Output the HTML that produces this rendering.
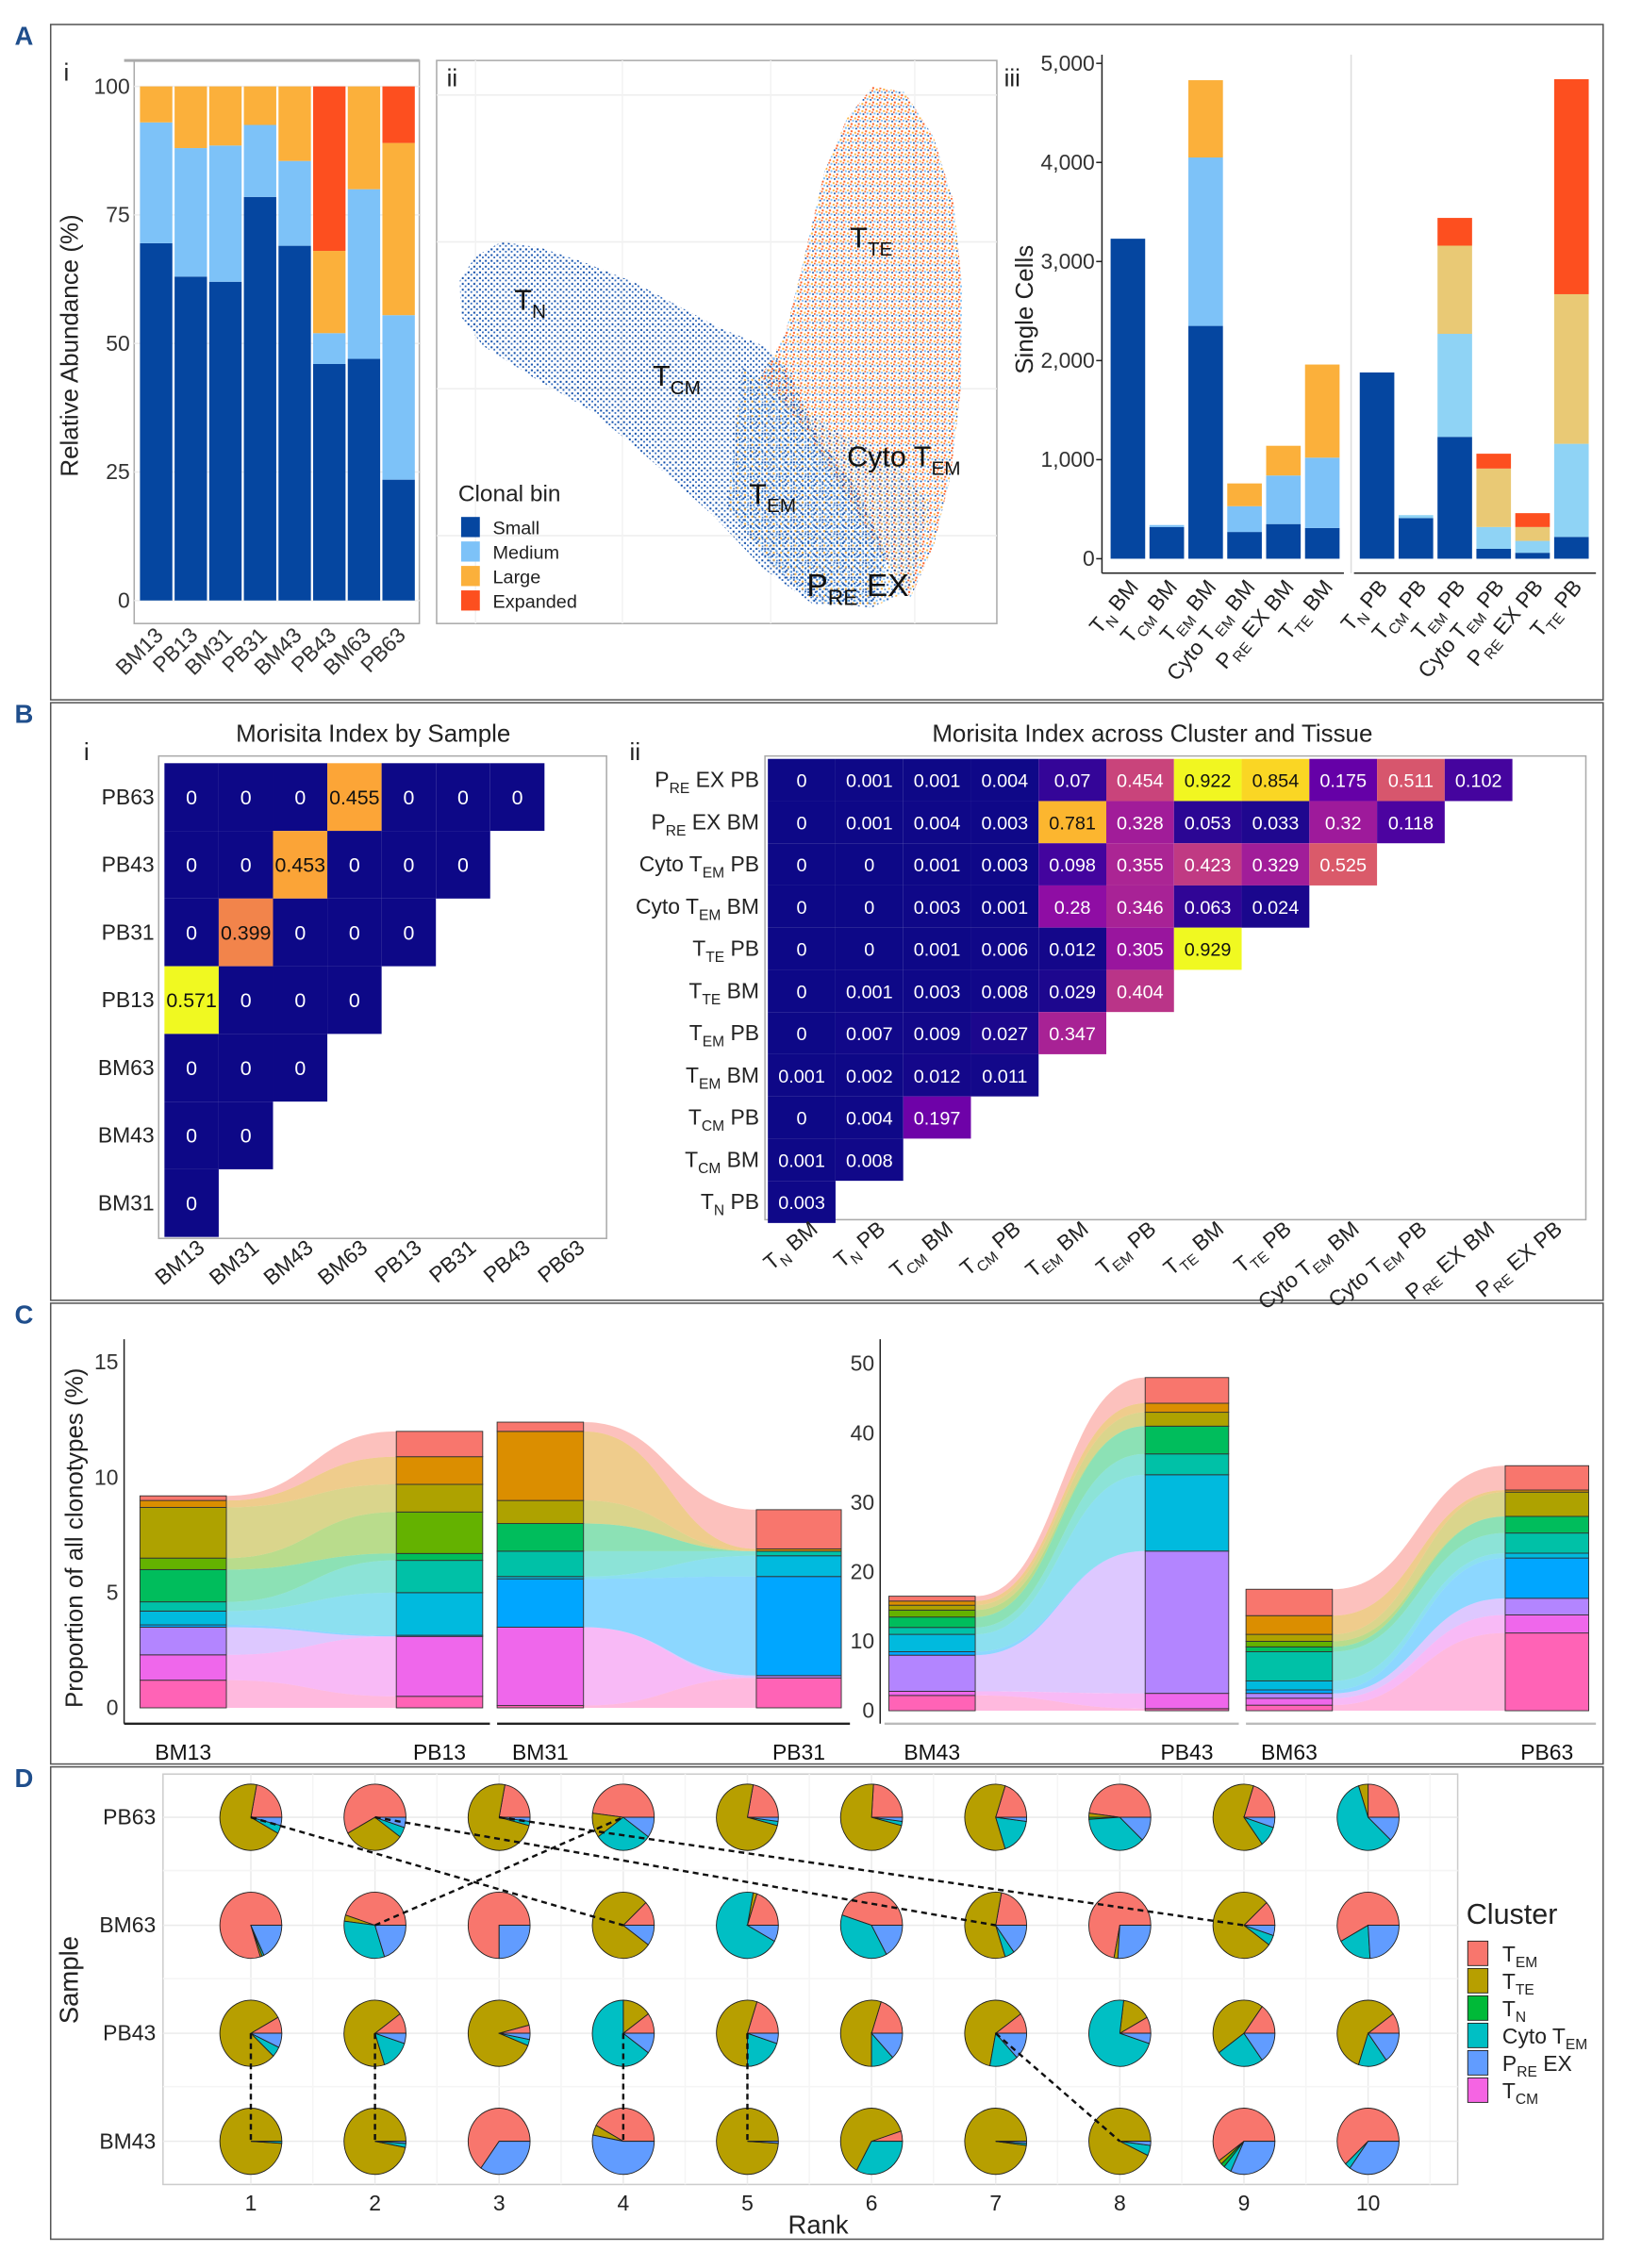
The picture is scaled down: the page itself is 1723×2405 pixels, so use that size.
<!DOCTYPE html>
<html><head><meta charset="utf-8">
<style>
html,body{margin:0;padding:0;background:#fff;}
svg{display:block;font-family:"Liberation Sans",sans-serif;}
</style></head>
<body>
<svg id="fig" xmlns="http://www.w3.org/2000/svg" width="1723" height="2405" viewBox="0 0 1128 1575">
<defs>
<pattern id="bluedots" width="4" height="4" patternUnits="userSpaceOnUse">
<rect x="0.5" y="0.5" width="1.3" height="1.3" fill="#0b4aa8"/><rect x="2.5" y="2.2" width="1.2" height="1.2" fill="#2a66bd"/>
</pattern>
<pattern id="mixdots" width="5" height="5" patternUnits="userSpaceOnUse">
<rect x="0.5" y="0.5" width="1.3" height="1.3" fill="#fd5a1e"/><rect x="3" y="1.5" width="1.3" height="1.3" fill="#fbb03b"/><rect x="1.5" y="3.2" width="1.3" height="1.3" fill="#7dc2f8"/><rect x="3.8" y="3.8" width="1.1" height="1.1" fill="#0b4aa8"/><rect x="0" y="2.5" width="1.1" height="1.1" fill="#fd5a1e"/>
</pattern>
<pattern id="lowdots" width="5" height="5" patternUnits="userSpaceOnUse">
<rect x="0.5" y="0.5" width="1.3" height="1.3" fill="#0b4aa8"/><rect x="3" y="1.5" width="1.3" height="1.3" fill="#7dc2f8"/><rect x="1.5" y="3.2" width="1.3" height="1.3" fill="#fbb03b"/><rect x="3.8" y="3.8" width="1.1" height="1.1" fill="#3a78c8"/>
</pattern>
</defs>
</svg>
<script>
// ---------- DATA ----------
// Panel A-i
const aiSamples = ["BM13","PB13","BM31","PB31","BM43","PB43","BM63","PB63"];
const aiSmall = [69.5,63,62,78.5,69,46,47,23.5];
const aiMedium = [23.5,25,26.5,14,16.5,6,33,32];
const aiLarge = [7,12,11.5,7.5,14.5,16,20,33.5];
const aiExpanded = [0,0,0,0,0,32,0,11];
const aiTicks = [0,25,50,75,100];
// Panel A-iii
const aiiiCatsBM = ["T{N} BM","T{CM} BM","T{EM} BM","Cyto T{EM} BM","P{RE} EX BM","T{TE} BM"];
const aiiiCatsPB = ["T{N} PB","T{CM} PB","T{EM} PB","Cyto T{EM} PB","P{RE} EX PB","T{TE} PB"];
const aiiiSmallBM = [3230,320,2350,270,350,310];
const aiiiMediumBM = [0,20,1700,260,490,710];
const aiiiLargeBM = [0,0,780,230,300,940];
const aiiiExpBM = [0,0,0,0,0,0];
const aiiiSmallPB = [1880,410,1230,100,60,220];
const aiiiMediumPB = [0,30,1040,220,120,940];
const aiiiLargePB = [0,0,890,590,140,1510];
const aiiiExpPB = [0,0,280,150,140,2170];
const aiiiTicks = [0,1000,2000,3000,4000,5000];
const aiiiTickLabels = ["0","1,000","2,000","3,000","4,000","5,000"];
// Panel B-i
const biRows = ["PB63","PB43","PB31","PB13","BM63","BM43","BM31"];
const biCols = ["BM13","BM31","BM43","BM63","PB13","PB31","PB43","PB63"];
const biVals = [[0,0,0,0.455,0,0,0],[0,0,0.453,0,0,0],[0,0.399,0,0,0],[0.571,0,0,0],[0,0,0],[0,0],[0]];
// Panel B-ii
const biiRows = ["P{RE} EX PB","P{RE} EX BM","Cyto T{EM} PB","Cyto T{EM} BM","T{TE} PB","T{TE} BM","T{EM} PB","T{EM} BM","T{CM} PB","T{CM} BM","T{N} PB"];
const biiCols = ["T{N} BM","T{N} PB","T{CM} BM","T{CM} PB","T{EM} BM","T{EM} PB","T{TE} BM","T{TE} PB","Cyto T{EM} BM","Cyto T{EM} PB","P{RE} EX BM","P{RE} EX PB"];
const biiVals = [
 [0,0.001,0.001,0.004,0.07,0.454,0.922,0.854,0.175,0.511,0.102],
 [0,0.001,0.004,0.003,0.781,0.328,0.053,0.033,0.32,0.118],
 [0,0,0.001,0.003,0.098,0.355,0.423,0.329,0.525],
 [0,0,0.003,0.001,0.28,0.346,0.063,0.024],
 [0,0,0.001,0.006,0.012,0.305,0.929],
 [0,0.001,0.003,0.008,0.029,0.404],
 [0,0.007,0.009,0.027,0.347],
 [0.001,0.002,0.012,0.011],
 [0,0.004,0.197],
 [0.001,0.008],
 [0.003]];
// Panel C (segments bottom->top, 11 clonotype slots)
const cLeftTicks = [0,5,10,15];
const cRightTicks = [0,10,20,30,40,50];
const cBM13 = [1.2,1.1,1.2,0.1,0.6,0.4,1.4,0.5,2.2,0.3,0.2];
const cPB13 = [0.5,2.6,0,0.05,1.85,1.4,0.3,1.8,1.2,1.2,1.1];
const cBM31 = [0.1,3.4,0,2.1,0.1,1.1,1.2,0,1.0,3.0,0.4];
const cPB31 = [1.3,0,0.1,4.3,0.9,0.2,0,0,0,0.1,1.7];
const cBM43 = [2.2,0.6,5.2,0.5,2.5,1.0,1.5,1.0,0.7,0.6,0.7];
const cPB43 = [0.3,2.2,20.5,0,11,3,4,0,2,1.3,3.7];
const cBM63 = [0.8,1.0,0.7,0.5,1.3,4.2,0.7,0.8,1.0,2.7,3.8];
const cPB63 = [11.2,2.6,2.4,5.8,0.7,2.9,2.4,0,3.5,0.3,3.5];
const cLabels = ["BM13","PB13","BM31","PB31","BM43","PB43","BM63","PB63"];
// Panel D
const dRows = ["PB63","BM63","PB43","BM43"];
const dRanks = [1,2,3,4,5,6,7,8,9,10];
const dClusters = ["T{EM}","T{TE}","T{N}","Cyto T{EM}","P{RE} EX","T{CM}"];
const dPB63 = [[0.22,0.70,0,0.04,0.04,0],[0.58,0.32,0,0.05,0.05,0],[0.22,0.74,0,0.02,0.02,0],[0.48,0.12,0,0.3,0.1,0],[0.22,0.74,0,0.02,0.02,0],[0.24,0.72,0,0.02,0.02,0],[0.2,0.6,0,0.18,0.02,0],[0.48,0.02,0.01,0.37,0.12,0],[0.2,0.65,0,0.1,0.05,0],[0.25,0.05,0,0.58,0.12,0]];
const dBM63 = [[0.8,0.01,0,0.01,0.18,0],[0.45,0.03,0,0.32,0.2,0],[0.75,0,0,0,0.25,0],[0.12,0.78,0,0,0.1,0],[0.2,0.02,0,0.7,0.08,0],[0.45,0,0,0.38,0.17,0],[0.22,0.58,0,0.05,0.15,0],[0.72,0.02,0,0,0.26,0],[0.12,0.78,0,0.05,0.05,0],[0.58,0,0,0.18,0.24,0]];
const dPB43 = [[0.08,0.8,0,0.05,0.07,0],[0.1,0.7,0,0.15,0.05,0],[0.04,0.9,0,0.03,0.03,0],[0.1,0.15,0,0.65,0.1,0],[0.2,0.55,0,0.2,0.05,0],[0.2,0.55,0,0.12,0.13,0],[0.1,0.62,0,0.15,0.13,0],[0.08,0.15,0,0.72,0.05,0],[0.15,0.45,0,0.25,0.15,0],[0.1,0.6,0,0.15,0.15,0]];
const dBM43 = [[0,0.99,0,0.01,0,0],[0,0.97,0,0.02,0.01,0],[0.65,0,0,0,0.35,0],[0.42,0.05,0,0,0.53,0],[0,0.99,0,0,0.01,0],[0.05,0.62,0,0.33,0,0],[0,0.98,0,0.01,0.01,0],[0,0.93,0,0.05,0.02,0],[0.6,0.02,0.02,0.04,0.32,0],[0.62,0,0,0.03,0.35,0]];
// links: [fromRow, fromRank, toRow, toRank]
const dLinks = [[0,1,1,4],[0,2,1,7],[0,3,1,9],[1,2,0,4],[2,1,3,1],[2,2,3,2],[2,4,3,4],[2,5,3,5],[2,7,3,8]];

// ---------- HELPERS ----------
const NS = "http://www.w3.org/2000/svg";
const svg = document.getElementById('fig');
function mk(tag, attrs, parent) {
  const e = document.createElementNS(NS, tag);
  for (const k in attrs) e.setAttribute(k, attrs[k]);
  (parent || svg).appendChild(e);
  return e;
}
function rich(parent, x, y, str, size, attrs) {
  const t = mk('text', Object.assign({x: x, y: y, 'font-size': size, fill: '#222'}, attrs || {}), parent);
  const parts = str.split(/(\{[^}]*\})/);
  for (const p of parts) {
    if (!p) continue;
    const ts = document.createElementNS(NS, 'tspan');
    if (p[0] === '{') {
      ts.textContent = p.slice(1, -1);
      ts.setAttribute('font-size', size * 0.68);
      ts.setAttribute('dy', size * 0.28);
    } else {
      ts.textContent = p;
      if (t.childNodes.length && t.lastChild.getAttribute('dy')) ts.setAttribute('dy', -size * 0.28);
    }
    t.appendChild(ts);
  }
  return t;
}
const plasmaStops = ["#0d0887","#41049d","#6a00a8","#8f0da4","#b12a90","#cc4778","#e16462","#f2844b","#fca636","#fcce25","#f0f921"];
function hex2rgb(h){return [parseInt(h.slice(1,3),16),parseInt(h.slice(3,5),16),parseInt(h.slice(5,7),16)];}
function plasma(t){
  t = Math.max(0, Math.min(1, t)); const s = t * 10; const i = Math.min(9, Math.floor(s)); const f = s - i;
  const a = hex2rgb(plasmaStops[i]), b = hex2rgb(plasmaStops[i+1]);
  return 'rgb(' + a.map((v,j)=>Math.round(v+(b[j]-v)*f)).join(',') + ')';
}

// ---------- PANEL FRAMES ----------
const panels = [["A",17,486],["B",488,903],["C",905,1225],["D",1227,1555]];
panels.forEach(p => {
  const r = mk('rect', {x:35, y:p[1], width:1078, height:p[2]-p[1], fill:'none', stroke:'#555', 'stroke-width':1});
  
  
  const t = mk('text', {x:10, y:p[1]+14, 'font-size':18, 'font-weight':'bold', fill:'#1f4e8c'});
  t.textContent = p[0];
  
  
});

// ---------- PANEL A-i ----------
(function(){
  const g = mk('g', {});
  
  
  const y = v => 417 - v * 3.57;
  mk('rect', {x:93, y:42, width:198, height:391, fill:'#fff', stroke:'#aaa'}, g);
  mk('line', {x1:86, y1:42, x2:291, y2:42, stroke:'#aaa', 'stroke-width':2}, g);
  aiTicks.forEach(v => { mk('line', {x1:93, x2:291, y1:y(v), y2:y(v), stroke:'#eee'}, g);
    const t = mk('text', {x:90, y:y(v)+5, 'font-size':15, 'text-anchor':'end', fill:'#333'}, g); t.textContent = v;
      });
  const cols = ['#0546a0','#7dc2f8','#fbb03b','#fd4f1f'];
  aiSamples.forEach((s, i) => {
    const x = 97 + i * 24.05;
    let base = 0;
    [aiSmall[i], aiMedium[i], aiLarge[i], aiExpanded[i]].forEach((v, k) => {
      if (v <= 0) return;
      const r = mk('rect', {x:x, y:y(base+v), width:22.5, height:v*3.57, fill:cols[k]}, g);
      
      
      base += v;
    });
    const t = mk('text', {x:0, y:0, 'font-size':15, 'text-anchor':'end', fill:'#333', transform:'translate(' + (x+17) + ',442) rotate(-45)'}, g);
    t.textContent = s;
     
  });
  const yt = mk('text', {x:0, y:0, 'font-size':17, 'text-anchor':'middle', fill:'#222', transform:'translate(54,240) rotate(-90)'}, g);
  yt.textContent = 'Relative Abundance (%)';
   
  const lab = mk('text', {x:44, y:56, 'font-size':17, fill:'#222'}, g); lab.textContent = 'i';
   
})();

// ---------- PANEL A-ii (UMAP) ----------
(function(){
  const g = mk('g', {});
  
  
  mk('rect', {x:303, y:42, width:389, height:391, fill:'#fff', stroke:'#aaa'}, g);
  [66,168,270,372].forEach(v => mk('line', {x1:303, x2:692, y1:v, y2:v, stroke:'#eee'}, g));
  [330,432,535,635].forEach(v => mk('line', {x1:v, x2:v, y1:42, y2:433, stroke:'#f2f2f2'}, g));
  const blue = mk('polygon', {points:'319,195 330,178 348,168 375,172 405,182 440,196 470,212 500,228 530,240 550,262 565,300 595,340 615,385 608,420 565,420 530,395 495,358 450,318 410,285 370,262 335,240 320,220', fill:'url(#bluedots)'}, g);
   
  const mix = mk('polygon', {points:'528,262 545,232 558,180 572,120 588,82 606,60 628,64 648,95 662,140 668,200 667,270 660,330 648,380 632,415 612,385 588,345 560,300', fill:'url(#mixdots)'}, g);
   
  const low = mk('polygon', {points:'515,255 545,275 580,300 620,320 645,350 632,410 605,422 565,418 535,392 505,352', fill:'url(#lowdots)', opacity:0.9}, g);
   
  const labs = [["T{N}",357,215,20],["T{CM}",453,268,20],["T{TE}",590,172,20],["Cyto T{EM}",588,324,20],["T{EM}",520,350,20],["P{RE} EX",560,414,22]];
  labs.forEach(l => { const t = rich(g, l[1], l[2], l[0], l[3], {fill:'#111'});
      });
  const lt = mk('text', {x:318, y:348, 'font-size':16, fill:'#222'}, g); lt.textContent = 'Clonal bin';
   
  [['Small','#0546a0'],['Medium','#7dc2f8'],['Large','#fbb03b'],['Expanded','#fd4f1f']].forEach((e,i) => {
    const r = mk('rect', {x:320, y:359+i*17, width:13, height:14, fill:e[1]}, g);
     
    const t = mk('text', {x:342, y:371+i*17, 'font-size':13, fill:'#222'}, g); t.textContent = e[0];
     
  });
  const lab = mk('text', {x:310, y:60, 'font-size':17, fill:'#222'}, g); lab.textContent = 'ii';
   
})();

// ---------- PANEL A-iii ----------
(function(){
  const g = mk('g', {});
  
  
  const y = v => 388 - v * 0.0688;
  mk('line', {x1:938, x2:938, y1:38, y2:398, stroke:'#ddd'}, g);
  mk('line', {x1:765, x2:765, y1:38, y2:398, stroke:'#222'}, g);
  mk('line', {x1:765, x2:933, y1:398, y2:398, stroke:'#222'}, g);
  mk('line', {x1:940, x2:1108, y1:398, y2:398, stroke:'#222'}, g);
  aiiiTicks.forEach((v,i) => { mk('line', {x1:761, x2:765, y1:y(v), y2:y(v), stroke:'#222'}, g);
    const t = mk('text', {x:760, y:y(v)+5, 'font-size':15, 'text-anchor':'end', fill:'#333'}, g); t.textContent = aiiiTickLabels[i];
      });
  function group(cats, arrs, x0, cols) {
    cats.forEach((c, i) => {
      const x = x0 + i * 27; let base = 0;
      arrs.forEach((a, k) => { const v = a[i]; if (v <= 0) return;
        const r = mk('rect', {x:x, y:y(base+v), width:24, height:v*0.0688, fill:cols[k]}, g);
         
        base += v; });
      const t = rich(g, 0, 0, c, 15, {'text-anchor':'end', fill:'#222', transform:'translate(' + (x+20) + ',408) rotate(-50)'});
       
    });
  }
  group(aiiiCatsBM, [aiiiSmallBM, aiiiMediumBM, aiiiLargeBM, aiiiExpBM], 771, ['#0546a0','#7dc2f8','#fbb03b','#fd4f1f']);
  group(aiiiCatsPB, [aiiiSmallPB, aiiiMediumPB, aiiiLargePB, aiiiExpPB], 944, ['#0546a0','#8fd3f5','#e9c975','#fd4f1f']);
  const yt = mk('text', {x:0, y:0, 'font-size':17, 'text-anchor':'middle', fill:'#222', transform:'translate(717,215) rotate(-90)'}, g);
  yt.textContent = 'Single Cells';
   
  const lab = mk('text', {x:697, y:60, 'font-size':17, fill:'#222'}, g); lab.textContent = 'iii';
   
})();

// ---------- PANEL B-i ----------
(function(){
  const g = mk('g', {});
  
  
  const tt = mk('text', {x:259, y:515, 'font-size':17, 'text-anchor':'middle', fill:'#222'}, g); tt.textContent = 'Morisita Index by Sample';
   
  const lab = mk('text', {x:58, y:528, 'font-size':17, fill:'#222'}, g); lab.textContent = 'i';
   
  mk('rect', {x:110, y:525, width:311, height:335, fill:'#fff', stroke:'#aaa'}, g);
  const cw = 37.7, rh = 47, x0 = 114, y0 = 530;
  const maxV = 0.571;
  biVals.forEach((row, r) => {
    row.forEach((v, c) => {
      const rc = mk('rect', {x:x0+c*cw, y:y0+r*rh, width:cw, height:rh, fill:plasma(v/maxV)}, g);
       
      const t = mk('text', {x:x0+c*cw+cw/2, y:y0+r*rh+rh/2+5, 'font-size':14, 'text-anchor':'middle', fill: v/maxV > 0.65 ? '#111' : '#fff'}, g);
      t.textContent = String(v);
       
    });
    const t = mk('text', {x:107, y:y0+r*rh+rh/2+5, 'font-size':15, 'text-anchor':'end', fill:'#222'}, g); t.textContent = biRows[r];
     
  });
  biCols.forEach((c, i) => {
    const t = mk('text', {x:0, y:0, 'font-size':15, 'text-anchor':'end', fill:'#222', transform:'translate(' + (x0+i*cw+cw/2+10) + ',868) rotate(-40)'}, g);
    t.textContent = c;
     
  });
})();

// ---------- PANEL B-ii ----------
(function(){
  const g = mk('g', {});
  
  
  const tt = mk('text', {x:800, y:515, 'font-size':17, 'text-anchor':'middle', fill:'#222'}, g); tt.textContent = 'Morisita Index across Cluster and Tissue';
   
  const lab = mk('text', {x:437, y:528, 'font-size':17, fill:'#222'}, g); lab.textContent = 'ii';
   
  mk('rect', {x:531, y:525, width:570, height:322, fill:'#fff', stroke:'#aaa'}, g);
  const cw = 47, rh = 29.3, x0 = 533, y0 = 527;
  const maxV = 0.929;
  biiVals.forEach((row, r) => {
    row.forEach((v, c) => {
      const rc = mk('rect', {x:x0+c*cw, y:y0+r*rh, width:cw, height:rh, fill:plasma(v/maxV)}, g);
       
      const t = mk('text', {x:x0+c*cw+cw/2, y:y0+r*rh+rh/2+5, 'font-size':13, 'text-anchor':'middle', fill: v/maxV > 0.7 ? '#111' : '#fff'}, g);
      t.textContent = String(v);
       
    });
    const t = rich(g, 527, y0+r*rh+rh/2+5, biiRows[r], 15, {'text-anchor':'end'});
     
  });
  biiCols.forEach((c, i) => {
    const t = rich(g, 0, 0, c, 15, {'text-anchor':'end', transform:'translate(' + (x0+i*cw+cw/2+12) + ',855) rotate(-40)'});
     
  });
})();

// ---------- PANEL C ----------
(function(){
  const g = mk('g', {});
  
  
  const pal = ['#FF63B6','#EF67EB','#B385FF','#00A6FF','#00BADE','#00C1A7','#00BD5C','#64B200','#AEA200','#DB8E00','#F8766D'];
  const yL = v => 1186 - v * 16;
  const yR = v => 1188 - v * 4.82;
  mk('line', {x1:86, x2:86, y1:930, y2:1197, stroke:'#222'}, g);
  mk('line', {x1:86, x2:340, y1:1197, y2:1197, stroke:'#222', 'stroke-width':1.5}, g);
  mk('line', {x1:345, x2:590, y1:1197, y2:1197, stroke:'#222', 'stroke-width':1.5}, g);
  mk('line', {x1:611, x2:611, y1:930, y2:1197, stroke:'#222'}, g);
  mk('line', {x1:614, x2:860, y1:1197, y2:1197, stroke:'#bbb', 'stroke-width':1.5}, g);
  mk('line', {x1:865, x2:1108, y1:1197, y2:1197, stroke:'#bbb', 'stroke-width':1.5}, g);
  cLeftTicks.forEach(v => { const t = mk('text', {x:82, y:yL(v)+5, 'font-size':15, 'text-anchor':'end', fill:'#333'}, g); t.textContent = v;
      });
  cRightTicks.forEach(v => { const t = mk('text', {x:607, y:yR(v)+5, 'font-size':15, 'text-anchor':'end', fill:'#333'}, g); t.textContent = v;
      });
  const yt = mk('text', {x:0, y:0, 'font-size':17, 'text-anchor':'middle', fill:'#222', transform:'translate(57,1068) rotate(-90)'}, g);
  yt.textContent = 'Proportion of all clonotypes (%)';
   
  function cum(a){ const o=[0]; a.forEach(v=>o.push(o[o.length-1]+v)); return o; }
  function pair(A, B, xa, xb, y, la, lb) {
    const ca = cum(A), cb = cum(B);
    const xm = (xa[1] + xb[0]) / 2;
    for (let k = 0; k < A.length; k++) {
      const a0 = y(ca[k]), a1 = y(ca[k+1]), b0 = y(cb[k]), b1 = y(cb[k+1]);
      const d = 'M' + xa[1] + ',' + a1 + ' C' + xm + ',' + a1 + ' ' + xm + ',' + b1 + ' ' + xb[0] + ',' + b1 +
        ' L' + xb[0] + ',' + b0 + ' C' + xm + ',' + b0 + ' ' + xm + ',' + a0 + ' ' + xa[1] + ',' + a0 + ' Z';
      const f = mk('path', {d:d, fill:pal[k], 'fill-opacity':0.45, stroke:'none'}, g);
       
    }
    [[A, ca, xa, la], [B, cb, xb, lb]].forEach(s => {
      for (let k = 0; k < s[0].length; k++) {
        if (s[0][k] <= 0) continue;
        const r = mk('rect', {x:s[2][0], y:y(s[1][k+1]), width:s[2][1]-s[2][0], height:y(s[1][k])-y(s[1][k+1]), fill:pal[k], stroke:'#333', 'stroke-width':0.6}, g);
         
      }
      const t = mk('text', {x:(s[2][0]+s[2][1])/2, y:1222, 'font-size':15, 'text-anchor':'middle', fill:'#111'}, g);
      t.textContent = s[3];
       
    });
  }
  pair(cBM13, cPB13, [97,157], [275,335], yL, cLabels[0], cLabels[1]);
  pair(cBM31, cPB31, [345,405], [525,584], yL, cLabels[2], cLabels[3]);
  pair(cBM43, cPB43, [617,677], [795,853], yR, cLabels[4], cLabels[5]);
  pair(cBM63, cPB63, [865,925], [1045,1103], yR, cLabels[6], cLabels[7]);
})();

// ---------- PANEL D ----------
(function(){
  const g = mk('g', {});
  
  
  const pcols = ['#F8766D','#B79F00','#00BA38','#00BFC4','#619CFF','#F564E3'];
  const xr = r => 174 + (r - 1) * 86.2;
  const yRow = i => 1262 + i * 75;
  mk('rect', {x:113, y:1232, width:899, height:285, fill:'#fff', stroke:'#ccc'}, g);
  dRanks.forEach(r => { mk('line', {x1:xr(r), x2:xr(r), y1:1232, y2:1517, stroke:'#ebebeb'}, g);
    mk('line', {x1:xr(r)+43, x2:xr(r)+43, y1:1232, y2:1517, stroke:'#f5f5f5'}, g);
    const t = mk('text', {x:xr(r), y:1535, 'font-size':15, 'text-anchor':'middle', fill:'#222'}, g); t.textContent = r;
      });
  dRows.forEach((n, i) => { mk('line', {x1:113, x2:1012, y1:yRow(i), y2:yRow(i), stroke:'#ebebeb'}, g);
    if (i < 3) mk('line', {x1:113, x2:1012, y1:yRow(i)+37, y2:yRow(i)+37, stroke:'#f5f5f5'}, g);
    const t = mk('text', {x:108, y:yRow(i)+5, 'font-size':15, 'text-anchor':'end', fill:'#222'}, g); t.textContent = n;
      });
  const rowsData = [dPB63, dBM63, dPB43, dBM43];
  const rx = 21.5, ry = 23;
  rowsData.forEach((rd, i) => {
    rd.forEach((fr, j) => {
      const cx = xr(dRanks[j]), cy = yRow(i);
      const tot = fr.reduce((a,b)=>a+b,0);
      let ang = 0;
      fr.forEach((f, k) => {
        if (f <= 0) return;
        const a0 = ang, a1 = ang + f / tot * 2 * Math.PI; ang = a1;
        let el;
        if (f / tot > 0.999) {
          el = mk('ellipse', {cx:cx, cy:cy, rx:rx, ry:ry, fill:pcols[k], stroke:'#222', 'stroke-width':0.6}, g);
        } else {
          const x0 = cx + rx*Math.cos(a0), y0 = cy - ry*Math.sin(a0), x1 = cx + rx*Math.cos(a1), y1 = cy - ry*Math.sin(a1);
          const large = (a1 - a0) > Math.PI ? 1 : 0;
          el = mk('path', {d:'M'+cx+','+cy+' L'+x0+','+y0+' A'+rx+','+ry+' 0 '+large+' 0 '+x1+','+y1+' Z', fill:pcols[k], stroke:'#222', 'stroke-width':0.6}, g);
        }
         
      });
    });
  });
  dLinks.forEach(l => {
    const ln = mk('line', {x1:xr(l[1]), y1:yRow(l[0]), x2:xr(l[3]), y2:yRow(l[2]), stroke:'#111', 'stroke-width':1.6, 'stroke-dasharray':'4,3'}, g);
     
  });
  const xt = mk('text', {x:568, y:1551, 'font-size':18, 'text-anchor':'middle', fill:'#222'}, g); xt.textContent = 'Rank';
   
  const yt = mk('text', {x:0, y:0, 'font-size':18, 'text-anchor':'middle', fill:'#222', transform:'translate(54,1375) rotate(-90)'}, g); yt.textContent = 'Sample';
   
  const lt = mk('text', {x:1018, y:1336, 'font-size':20, fill:'#222'}, g); lt.textContent = 'Cluster';
   
  dClusters.forEach((c, i) => {
    const r = mk('rect', {x:1019, y:1348+i*19, width:14, height:17, fill:pcols[i], stroke:'#222', 'stroke-width':0.6}, g);
     
    const t = rich(g, 1043, 1362+i*19, c, 15, {});
     
  });
})();
</script>
</body></html>
